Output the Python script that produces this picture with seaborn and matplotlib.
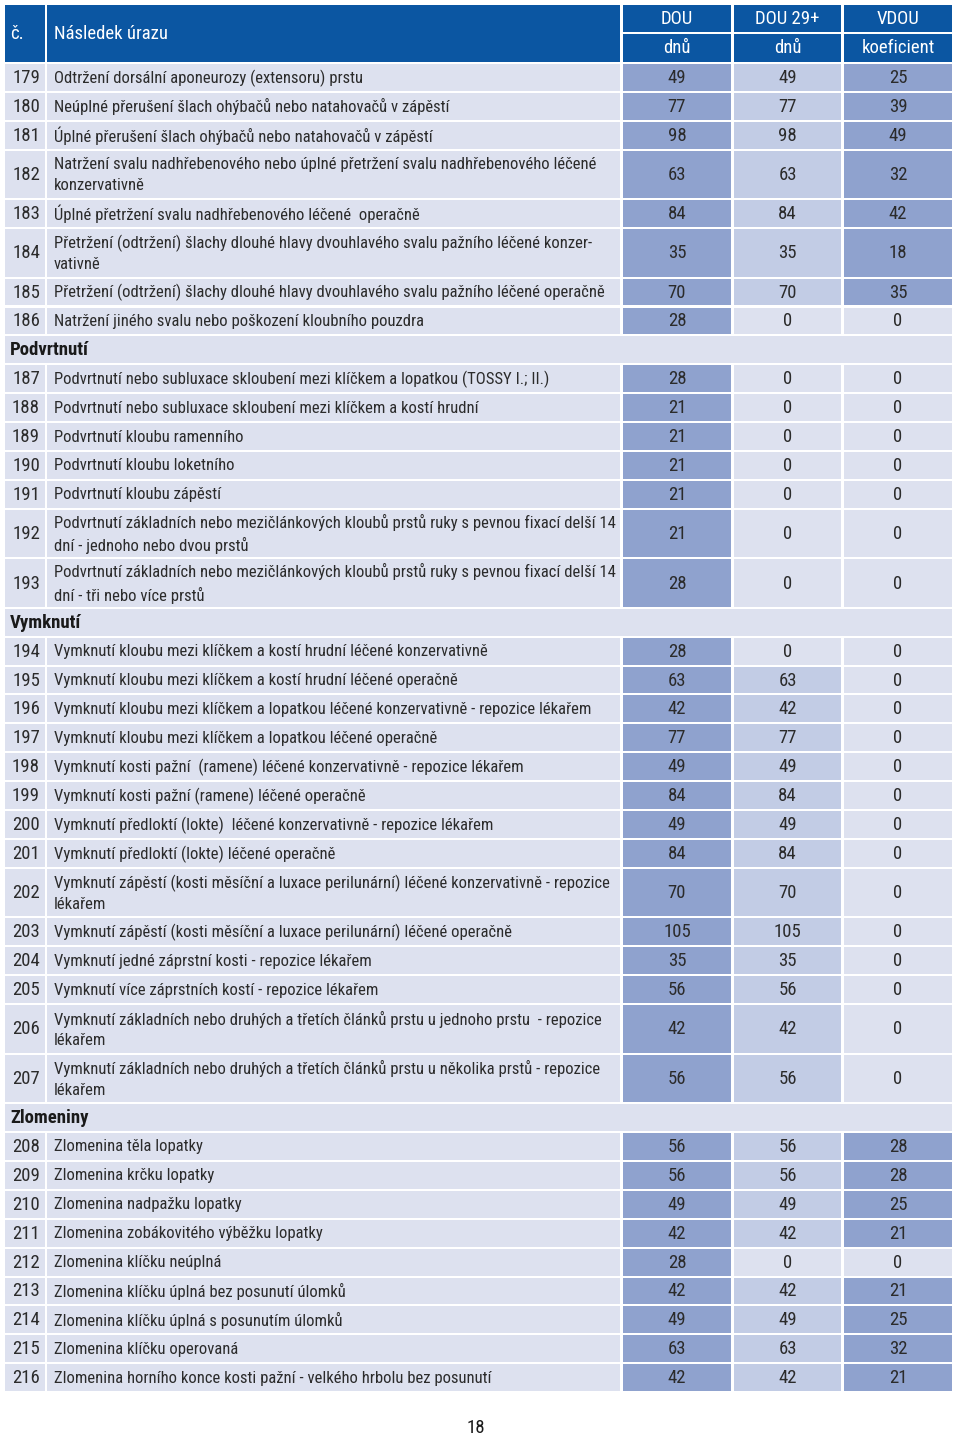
import numpy as np
import pandas as pd
import matplotlib
matplotlib.use("Agg")
import matplotlib.pyplot as plt
from matplotlib import font_manager
from matplotlib.patches import Rectangle
import seaborn as sns

# Data z tabulky (str. 18)
cisla = list(range(179, 217))
nazvy = [
    "Odtržení dorsální aponeurozy (extensoru) prstu",
    "Neúplné přerušení šlach ohýbačů nebo natahovačů v zápěstí",
    "Úplné přerušení šlach ohýbačů nebo natahovačů v zápěstí",
    "Natržení svalu nadhřebenového nebo úplné přetržení svalu nadhřebenového léčené\nkonzervativně",
    "Úplné přetržení svalu nadhřebenového léčené  operačně",
    "Přetržení (odtržení) šlachy dlouhé hlavy dvouhlavého svalu pažního léčené konzer-\nvativně",
    "Přetržení (odtržení) šlachy dlouhé hlavy dvouhlavého svalu pažního léčené operačně",
    "Natržení jiného svalu nebo poškození kloubního pouzdra",
    "Podvrtnutí nebo subluxace skloubení mezi klíčkem a lopatkou (TOSSY I.; II.)",
    "Podvrtnutí nebo subluxace skloubení mezi klíčkem a kostí hrudní",
    "Podvrtnutí kloubu ramenního",
    "Podvrtnutí kloubu loketního",
    "Podvrtnutí kloubu zápěstí",
    "Podvrtnutí základních nebo mezičlánkových kloubů prstů ruky s pevnou fixací delší 14\ndní - jednoho nebo dvou prstů",
    "Podvrtnutí základních nebo mezičlánkových kloubů prstů ruky s pevnou fixací delší 14\ndní - tři nebo více prstů",
    "Vymknutí kloubu mezi klíčkem a kostí hrudní léčené konzervativně",
    "Vymknutí kloubu mezi klíčkem a kostí hrudní léčené operačně",
    "Vymknutí kloubu mezi klíčkem a lopatkou léčené konzervativně - repozice lékařem",
    "Vymknutí kloubu mezi klíčkem a lopatkou léčené operačně",
    "Vymknutí kosti pažní  (ramene) léčené konzervativně - repozice lékařem",
    "Vymknutí kosti pažní (ramene) léčené operačně",
    "Vymknutí předloktí (lokte)  léčené konzervativně - repozice lékařem",
    "Vymknutí předloktí (lokte) léčené operačně",
    "Vymknutí zápěstí (kosti měsíční a luxace perilunární) léčené konzervativně - repozice\nlékařem",
    "Vymknutí zápěstí (kosti měsíční a luxace perilunární) léčené operačně",
    "Vymknutí jedné záprstní kosti - repozice lékařem",
    "Vymknutí více záprstních kostí - repozice lékařem",
    "Vymknutí základních nebo druhých a třetích článků prstu u jednoho prstu  - repozice\nlékařem",
    "Vymknutí základních nebo druhých a třetích článků prstu u několika prstů - repozice\nlékařem",
    "Zlomenina těla lopatky",
    "Zlomenina krčku lopatky",
    "Zlomenina nadpažku lopatky",
    "Zlomenina zobákovitého výběžku lopatky",
    "Zlomenina klíčku neúplná",
    "Zlomenina klíčku úplná bez posunutí úlomků",
    "Zlomenina klíčku úplná s posunutím úlomků",
    "Zlomenina klíčku operovaná",
    "Zlomenina horního konce kosti pažní - velkého hrbolu bez posunutí",
]
dou = [49, 77, 98, 63, 84, 35, 70, 28, 28, 21, 21, 21, 21, 21, 28,
       28, 63, 42, 77, 49, 84, 49, 84, 70, 105, 35, 56, 42, 56,
       56, 56, 49, 42, 28, 42, 49, 63, 42]
dou29 = [49, 77, 98, 63, 84, 35, 70, 0, 0, 0, 0, 0, 0, 0, 0,
         0, 63, 42, 77, 49, 84, 49, 84, 70, 105, 35, 56, 42, 56,
         56, 56, 49, 42, 0, 42, 49, 63, 42]
vdou = [25, 39, 49, 32, 42, 18, 35, 0, 0, 0, 0, 0, 0, 0, 0,
        0, 0, 0, 0, 0, 0, 0, 0, 0, 0, 0, 0, 0, 0,
        28, 28, 25, 21, 0, 21, 25, 32, 21]
sekce = ["Podvrtnutí", "Vymknutí", "Zlomeniny"]
sekce_pred = [187, 194, 208]
hlavicka_1 = ["DOU", "DOU 29+", "VDOU"]
hlavicka_2 = ["dnů", "dnů", "koeficient"]

df = pd.DataFrame({"c": cisla, "nazev": nazvy, "DOU": dou, "DOU29": dou29, "VDOU": vdou})

sns.set_theme(style="white")
# uzsi pismo, pokud je k dispozici
dostupne = {f.name for f in font_manager.fontManager.ttflist}
kandidati = ["Liberation Sans Narrow", "DejaVu Sans Condensed", "Roboto Condensed",
             "Open Sans Condensed", "Roboto", "Liberation Sans"]
rodina = [k for k in kandidati if k in dostupne][:1] + ["DejaVu Sans"]
plt.rcParams["font.family"] = rodina

modra = "#0b56a2"
pozadi = "#dde1ef"
tmava = "#8fa2ce"
svetla = "#c2cce5"
txt = "#2b2b2b"

fig = plt.figure(figsize=(9.6, 14.39), dpi=100)
ax = fig.add_axes([0, 0, 1, 1])
ax.set_xlim(0, 960)
ax.set_ylim(1439, 0)
ax.axis("off")

# velikost pisma tak, aby nejdelsi radek popisu vesel do sloupce
renderer = fig.canvas.get_renderer()
fs0 = 13.5
radky = [l for n in nazvy for l in n.split("\n")]
t = fig.text(0, 0, "", fontsize=fs0)
sirky = []
for l in radky:
    t.set_text(l)
    sirky.append(t.get_window_extent(renderer=renderer).width)
t.remove()
fs = min(fs0, fs0 * 560 / max(sirky))

# sloupce: (levy okraj, pravy okraj)
sl = [(5, 45), (47, 620), (623, 731), (734, 841), (844, 952)]
gap = 2

# hlavicka
ax.add_patch(Rectangle((sl[0][0], 5), sl[0][1] - sl[0][0], 57, color=modra, lw=0))
ax.add_patch(Rectangle((sl[1][0], 5), sl[1][1] - sl[1][0], 57, color=modra, lw=0))
ax.text(10, 34, "č.", color="white", fontsize=fs0, va="center")
ax.text(54, 34, "Následek úrazu", color="white", fontsize=fs0, va="center")
for k in range(3):
    x0, x1 = sl[k + 2]
    ax.add_patch(Rectangle((x0, 5), x1 - x0, 27, color=modra, lw=0))
    ax.add_patch(Rectangle((x0, 34), x1 - x0, 28, color=modra, lw=0))
    ax.text((x0 + x1) / 2, 19, hlavicka_1[k], color="white", fontsize=fs0, ha="center", va="center")
    ax.text((x0 + x1) / 2, 48, hlavicka_2[k], color="white", fontsize=fs0, ha="center", va="center")

p1, p2 = 28.9, 49.5
y = 64
for i, r in df.iterrows():
    if r["c"] in sekce_pred:
        s = sekce[sekce_pred.index(r["c"])]
        ax.add_patch(Rectangle((5, y), 947, p1 - gap, color=pozadi, lw=0))
        ax.text(10, y + (p1 - gap) / 2 + 0.5, s, fontsize=fs0, fontweight="bold", color="#1a1a1a", va="center")
        y += p1
    h = p2 if "\n" in r["nazev"] else p1
    yc = y + (h - gap) / 2 + 0.5
    ax.add_patch(Rectangle((sl[0][0], y), sl[0][1] - sl[0][0], h - gap, color=pozadi, lw=0))
    ax.add_patch(Rectangle((sl[1][0], y), sl[1][1] - sl[1][0], h - gap, color=pozadi, lw=0))
    ax.text(26, yc, str(r["c"]), fontsize=fs0, color=txt, ha="center", va="center")
    ax.text(54, yc, r["nazev"], fontsize=fs, color=txt, va="center", linespacing=1.45)
    for k, (col, barva) in enumerate([("DOU", tmava), ("DOU29", svetla), ("VDOU", tmava)]):
        v = r[col]
        x0, x1 = sl[k + 2]
        f = barva if (col == "DOU" or v > 0) else pozadi
        ax.add_patch(Rectangle((x0, y), x1 - x0, h - gap, color=f, lw=0))
        ax.text((x0 + x1) / 2, yc, str(v), fontsize=fs0, color=txt, ha="center", va="center")
    y += h

ax.text(476, 1428, "18", fontsize=fs0, color="#1a1a1a", ha="center", va="center")

fig.savefig("out.png", dpi=100, facecolor="white")
